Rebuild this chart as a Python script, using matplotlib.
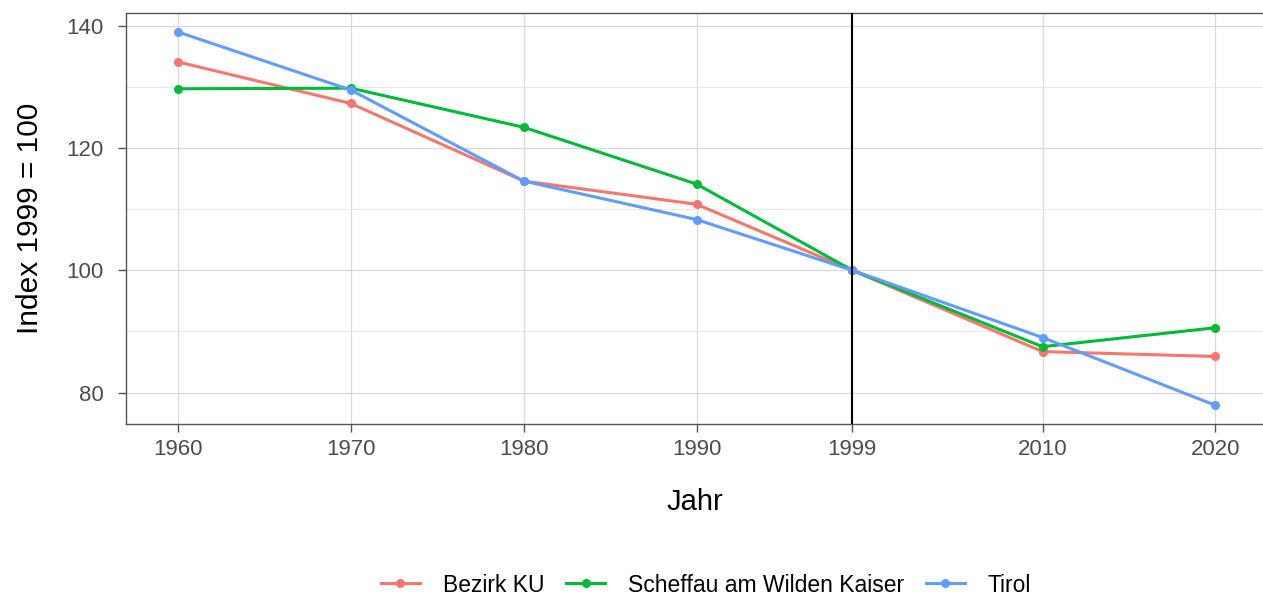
import matplotlib
matplotlib.use("Agg")
import matplotlib.pyplot as plt

plt.rcParams['font.family'] = ['Liberation Sans', 'DejaVu Sans']

years = [1960, 1970, 1980, 1990, 1999, 2010, 2020]
bezirk_ku = [134.1, 127.3, 114.6, 110.8, 100.0, 86.7, 85.9]
scheffau = [129.7, 129.8, 123.4, 114.1, 100.0, 87.5, 90.6]
tirol = [139.0, 129.5, 114.6, 108.3, 100.0, 89.0, 77.9]

series = [
    ("Bezirk KU", bezirk_ku, "#F8766D"),
    ("Scheffau am Wilden Kaiser", scheffau, "#00BA38"),
    ("Tirol", tirol, "#619CFF"),
]

fig = plt.figure(figsize=(12.63, 5.98), dpi=100)
ax = fig.add_axes([126 / 1263, 1 - 424 / 598, 1 - 126 / 1263, (424 - 13) / 598])

for name, vals, col in series:
    ax.plot(years, vals, color=col, lw=2.2, marker="o", ms=5.5, label=name, zorder=3)

ax.axvline(1999, color="black", lw=1.5, zorder=4)

ax.set_xlim(1957, 2022.75)
ax.set_ylim(74.85, 142.1)
ax.set_xticks(years)
ax.set_yticks([80, 100, 120, 140])
ax.set_yticks([90, 110, 130], minor=True)

ax.grid(True, which="major", color="#D9D9D9", lw=0.9, zorder=0)
ax.grid(True, which="minor", axis="y", color="#E6E6E6", lw=0.6, zorder=0)
ax.set_axisbelow(True)

for s in ["left", "bottom", "top"]:
    ax.spines[s].set_color("#555555")
    ax.spines[s].set_linewidth(1.0)
ax.spines["right"].set_visible(False)

ax.tick_params(axis="both", which="major", colors="#555555", labelcolor="#4D4D4D",
               labelsize=16, length=6, width=1.0)
ax.tick_params(axis="x", which="major", pad=5)
ax.tick_params(axis="y", which="major", pad=10)
ax.tick_params(axis="y", which="minor", length=0)

ax.set_xlabel("Jahr", fontsize=21, labelpad=20)
ax.set_ylabel("Index 1999 = 100", fontsize=21.5, labelpad=16)

fig.legend(loc="center", bbox_to_anchor=(706 / 1263, 1 - 585 / 598), ncol=3,
           frameon=False, fontsize=16.5, handlelength=1.7, columnspacing=0.95,
           handletextpad=1.0)

fig.savefig("out.png", dpi=100)
